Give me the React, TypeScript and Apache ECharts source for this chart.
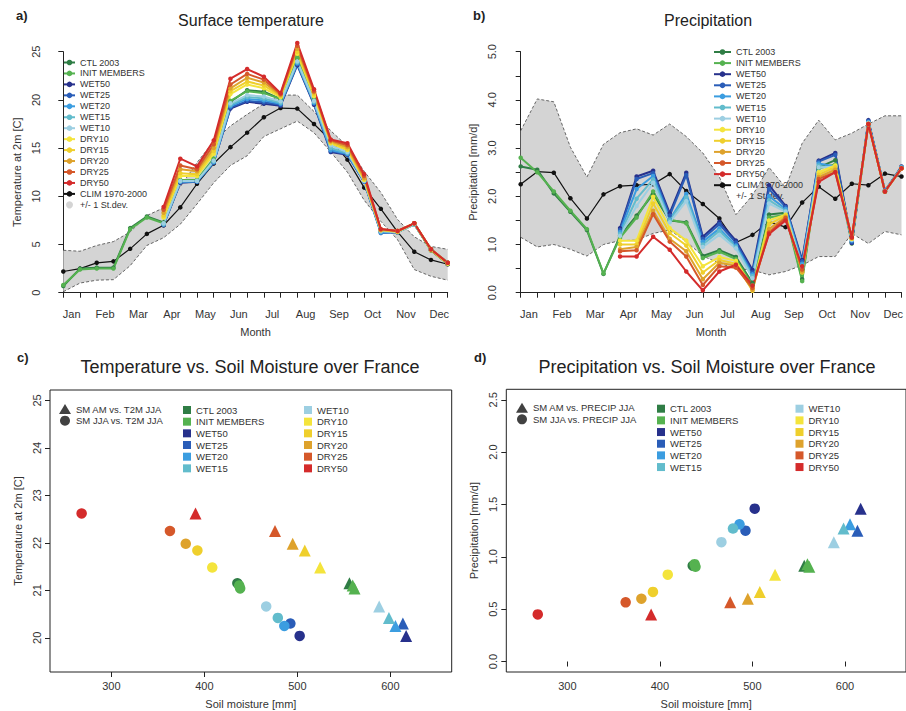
import React, { useEffect, useRef } from 'react';
import * as echarts from 'echarts';

const N = null;
const MONTHS = ['Jan', 'Feb', 'Mar', 'Apr', 'May', 'Jun', 'Jul', 'Aug', 'Sep', 'Oct', 'Nov', 'Dec'];
const EXPERIMENTS = ['CTL 2003', 'INIT MEMBERS', 'WET50', 'WET25', 'WET20', 'WET15', 'WET10', 'DRY10', 'DRY15', 'DRY20', 'DRY25', 'DRY50'];
const COLORS = ['#2f7d45', '#55b250', '#27318c', '#2a5db8', '#3b9de0', '#62bccc', '#9dcfe2', '#f4e43c', '#efcf2c', '#dea22c', '#d5582a', '#d42b2b'];

// Panel a: surface temperature, half-month steps (24 points)
const T_CLIM = [2.2, 2.5, 3.1, 3.25, 4.55, 6.1, 7.0, 8.85, 11.3, 13.4, 15.1, 16.6, 18.2, 19.15, 19.1, 17.5, 15.8, 13.8, 10.9, 8.7, 6.3, 4.25, 3.4, 2.95];
const T_SD_LOW = [0.1, 1.0, 1.3, 1.35, 2.8, 4.9, 5.7, 7.1, 9.2, 11.4, 13.2, 14.2, 16.2, 17.0, 17.8, 16.6, 14.6, 12.5, 9.6, 7.4, 5.5, 2.4, 1.7, 1.3];
const T_SD_HIGH = [4.4, 4.3, 4.9, 5.3, 6.3, 8.0, 8.8, 11.0, 13.5, 15.7, 17.3, 18.5, 19.6, 20.5, 20.5, 18.8, 16.8, 15.2, 12.6, 10.4, 7.6, 5.8, 4.8, 4.5];
const T_CTL = [0.7, 2.5, 2.6, 2.6, 6.7, 7.9, 7.3, 11.6, 11.6, 13.8, 19.8, 21.0, 20.85, 20.1, 24.3, 20.0, 15.8, 14.7, 11.6, 6.4, 6.3, 7.1, 4.4, 3.0];
const T_INIT = [0.8, 2.4, 2.5, 2.5, 6.6, 7.8, 7.2, 11.7, 11.7, 13.9, 19.9, 20.9, 20.7, 20.1, 24.4, 20.1, 15.7, 14.8, 11.6, 6.4, 6.3, 7.1, 4.4, 3.0];
const T_WET50 = [N, N, N, N, N, N, 7.0, 11.4, 11.5, 13.5, 19.1, 19.8, 19.6, 19.4, 23.6, 19.5, 14.6, 14.3, 11.5, 6.3, 6.3, 7.2, 4.4, 3.0];
const T_WET25 = [N, N, N, N, N, N, 7.05, 11.45, 11.5, 13.5, 19.2, 19.9, 19.75, 19.5, 23.7, 19.6, 14.7, 14.35, 11.5, 6.2, 6.25, 7.2, 4.45, 3.1];
const T_WET20 = [N, N, N, N, N, N, 7.1, 11.5, 11.55, 13.55, 19.35, 20.1, 19.95, 19.6, 23.8, 19.7, 14.8, 14.4, 11.55, 6.25, 6.3, 7.1, 4.5, 3.15];
const T_WET15 = [N, N, N, N, N, N, 7.1, 11.55, 11.6, 13.6, 19.5, 20.3, 20.15, 19.7, 23.9, 19.8, 15.0, 14.5, 11.6, 6.35, 6.3, 7.1, 4.5, 3.1];
const T_WET10 = [N, N, N, N, N, N, 7.2, 11.6, 11.6, 13.7, 19.65, 20.5, 20.35, 19.85, 24.0, 19.9, 15.3, 14.6, 11.6, 6.4, 6.3, 7.1, 4.5, 3.1];
const T_DRY10 = [N, N, N, N, N, N, 7.8, 12.1, 12.1, 14.4, 20.6, 21.6, 21.2, 20.3, 24.8, 20.4, 15.5, 14.8, 11.7, 6.5, 6.3, 7.2, 4.4, 3.0];
const T_DRY15 = [N, N, N, N, N, N, 8.0, 12.4, 12.3, 14.7, 20.9, 21.9, 21.5, 20.4, 25.0, 20.6, 15.6, 14.9, 11.8, 6.5, 6.4, 7.2, 4.5, 3.1];
const T_DRY20 = [N, N, N, N, N, N, 8.3, 12.8, 12.6, 15.0, 21.2, 22.3, 21.8, 20.5, 25.3, 20.8, 15.7, 15.1, 11.9, 6.5, 6.4, 7.2, 4.5, 3.1];
const T_DRY25 = [N, N, N, N, N, N, 8.6, 13.2, 12.8, 15.4, 21.6, 22.7, 22.1, 20.6, 25.6, 20.9, 15.8, 15.3, 12.1, 6.6, 6.4, 7.2, 4.5, 3.1];
const T_DRY50 = [N, N, N, N, N, N, 8.9, 13.9, 13.1, 15.8, 22.2, 23.2, 22.4, 20.7, 25.9, 21.1, 15.9, 15.5, 12.3, 6.6, 6.4, 7.2, 4.5, 3.1];

// Panel b: precipitation
const P_CLIM = [2.25, 2.51, 2.49, 1.96, 1.54, 2.04, 2.21, 2.23, 2.25, 2.46, 2.11, 1.84, 1.54, 1.04, 1.2, 1.47, 1.36, 1.87, 2.2, 1.95, 2.26, 2.23, 2.47, 2.41];
const P_SD_LOW = [1.15, 0.95, 1.0, 0.9, 0.76, 1.0, 1.08, 1.09, 1.23, 1.3, 1.06, 0.76, 0.61, 0.5, 0.47, 0.37, 0.44, 0.57, 0.75, 0.75, 1.23, 1.02, 1.27, 1.2];
const P_SD_HIGH = [3.36, 4.02, 3.96, 3.02, 2.4, 3.08, 3.32, 3.4, 3.27, 3.5, 3.24, 2.9, 2.4, 1.62, 2.02, 2.6, 2.18, 3.1, 3.58, 3.17, 3.31, 3.5, 3.67, 3.67];
const P_CTL = [2.62, 2.55, 2.06, 1.68, 1.3, 0.39, 1.18, 1.6, 2.05, 1.5, 1.46, 0.76, 0.88, 0.74, 0.2, 1.62, 1.66, 0.28, 2.6, 2.75, 1.05, 3.55, 2.1, 2.6];
const P_INIT = [2.8, 2.5, 2.1, 1.7, 1.32, 0.4, 1.14, 1.56, 2.1, 1.52, 1.44, 0.72, 0.85, 0.7, 0.16, 1.56, 1.62, 0.24, 2.58, 2.66, 1.02, 3.52, 2.1, 2.58];
const P_WET50 = [N, N, N, N, N, N, 1.34, 2.41, 2.53, 1.65, 2.49, 1.16, 1.47, 1.08, 0.47, 2.23, 1.8, 0.68, 2.74, 2.9, 1.03, 3.58, 2.1, 2.62];
const P_WET25 = [N, N, N, N, N, N, 1.3, 2.36, 2.48, 1.6, 2.44, 1.12, 1.42, 1.04, 0.42, 2.15, 1.78, 0.65, 2.72, 2.86, 1.05, 3.56, 2.12, 2.6];
const P_WET20 = [N, N, N, N, N, N, 1.26, 2.15, 2.42, 1.52, 2.05, 1.06, 1.33, 0.98, 0.38, 2.0, 1.74, 0.6, 2.68, 2.62, 1.08, 3.54, 2.12, 2.6];
const P_WET15 = [N, N, N, N, N, N, 1.22, 1.95, 2.35, 1.5, 1.98, 1.0, 1.28, 0.95, 0.34, 1.92, 1.7, 0.56, 2.64, 2.55, 1.1, 3.52, 2.1, 2.6];
const P_WET10 = [N, N, N, N, N, N, 1.18, 1.8, 2.28, 1.46, 1.9, 0.95, 1.2, 0.92, 0.3, 1.85, 1.68, 0.52, 2.6, 2.62, 1.1, 3.52, 2.1, 2.58];
const P_DRY10 = [N, N, N, N, N, N, 1.08, 1.08, 1.99, 1.34, 1.08, 0.55, 0.74, 0.66, 0.1, 1.5, 1.62, 0.45, 2.5, 2.64, 1.12, 3.5, 2.1, 2.58];
const P_DRY15 = [N, N, N, N, N, N, 1.0, 1.0, 1.85, 1.24, 0.98, 0.42, 0.68, 0.6, 0.04, 1.42, 1.6, 0.42, 2.45, 2.6, 1.12, 3.5, 2.1, 2.58];
const P_DRY20 = [N, N, N, N, N, N, 0.9, 0.95, 1.7, 1.12, 0.86, 0.28, 0.62, 0.56, 0.06, 1.32, 1.57, 0.44, 2.4, 2.55, 1.14, 3.5, 2.1, 2.58];
const P_DRY25 = [N, N, N, N, N, N, 0.86, 0.88, 1.63, 1.06, 0.75, 0.16, 0.55, 0.52, 0.1, 1.25, 1.55, 0.48, 2.36, 2.5, 1.14, 3.5, 2.1, 2.58];
const P_DRY50 = [N, N, N, N, N, N, 0.75, 0.75, 1.16, 0.89, 0.44, 0.05, 0.44, 0.58, 0.15, 1.22, 1.5, 0.55, 2.3, 2.5, 1.15, 3.5, 2.1, 2.58];

// Panels c/d: per experiment (INIT MEMBERS has two members)
const SM_AM = [[556], [559.5, 561.5], [617], [613.5], [605.5], [598.5], [588], [524.5], [508], [495], [476], [390.5]];
const SM_JJA = [[435.5], [437.5, 438.5], [502.5], [492.5], [486], [479], [466.5], [408.5], [392.5], [380], [363], [268]];
const T2M_JJA = [[21.15], [21.1, 21.04], [20.04], [20.3], [20.25], [20.42], [20.66], [21.48], [21.84], [21.98], [22.25], [22.62]];
const PRECIP_JJA = [[0.915], [0.93, 0.905], [1.46], [1.25], [1.31], [1.27], [1.14], [0.83], [0.665], [0.6], [0.565], [0.45]];

const T_TICKS = [0, 5, 10, 15, 20, 25];
const P_LABEL_TICKS = [0, 1, 2, 3, 4, 5];
const P_MINOR_TICKS = [0, 0.5, 1, 1.5, 2, 2.5, 3, 3.5, 4, 4.5, 5];
const SM_TICKS = [300, 400, 500, 600];
const TC_TICKS = [20, 21, 22, 23, 24, 25];
const PD_TICKS = [0, 0.5, 1, 1.5, 2, 2.5];

const T_SERIES = [T_CTL, T_INIT, T_WET50, T_WET25, T_WET20, T_WET15, T_WET10, T_DRY10, T_DRY15, T_DRY20, T_DRY25, T_DRY50];
const P_SERIES = [P_CTL, P_INIT, P_WET50, P_WET25, P_WET20, P_WET15, P_WET10, P_DRY10, P_DRY15, P_DRY20, P_DRY25, P_DRY50];

const FONT = 'Liberation Sans, Arial, Helvetica, sans-serif';
const INK = '#222';
const TXT = '#333';
const BAND = '#d4d4d4';

const toXY = (arr: (number | null)[]) =>
  arr.map((v, i) => (v == null ? null : [i, v])).filter((d) => d !== null) as number[][];

const HALF_MONTH_TICKS = MONTHS.flatMap((_, m) => [2 * m, 2 * m + 1]);
const MONTH_LABEL_POS = MONTHS.map((_, m) => 2 * m + 0.5);

function monthAxis(gridIndex: number) {
  return {
    gridIndex,
    type: 'value',
    min: 0,
    max: 23,
    offset: 10,
    name: 'Month',
    nameLocation: 'middle',
    nameGap: 24,
    nameTextStyle: { fontSize: 11, color: TXT, fontFamily: FONT },
    axisLine: { show: true, lineStyle: { color: INK, width: 1 } },
    axisTick: { show: true, customValues: HALF_MONTH_TICKS, length: 5, lineStyle: { color: INK } },
    axisLabel: {
      customValues: MONTH_LABEL_POS,
      formatter: (v: number) => MONTHS[Math.round((v - 0.5) / 2)] || '',
      fontSize: 11,
      color: TXT,
      margin: 6,
      fontFamily: FONT,
    },
    splitLine: { show: false },
  };
}

function leftAxis(gridIndex: number, min: number, max: number, name: string, tickVals: number[], labelVals: number[], fmt: (v: number) => string, offset: number, boxed: boolean) {
  return {
    gridIndex,
    type: 'value',
    min,
    max,
    offset,
    name,
    nameLocation: 'middle',
    nameGap: 27,
    nameRotate: 90,
    nameTextStyle: { fontSize: 11, color: TXT, fontFamily: FONT },
    axisLine: { show: !boxed, lineStyle: { color: INK, width: 1 } },
    axisTick: { show: true, customValues: tickVals, length: 5, lineStyle: { color: INK } },
    axisLabel: { customValues: labelVals, formatter: fmt, rotate: 90, fontSize: 11, color: TXT, margin: 8, fontFamily: FONT },
    splitLine: { show: false },
  };
}

function smAxis(gridIndex: number) {
  return {
    gridIndex,
    type: 'value',
    min: 234,
    max: 666,
    name: 'Soil moisture [mm]',
    nameLocation: 'middle',
    nameGap: 26,
    nameTextStyle: { fontSize: 11, color: TXT, fontFamily: FONT },
    axisLine: { show: false },
    axisTick: { show: true, customValues: SM_TICKS, length: 5, lineStyle: { color: INK } },
    axisLabel: { customValues: SM_TICKS, fontSize: 11, color: TXT, margin: 8, fontFamily: FONT },
    splitLine: { show: false },
  };
}

function bandSeries(axis: number, low: number[], high: number[]) {
  return {
    name: '+/- 1 St.dev.',
    type: 'custom',
    xAxisIndex: axis,
    yAxisIndex: axis,
    data: low.map((v, i) => [i, v, high[i]]),
    encode: { x: 0, y: [1, 2] },
    silent: true,
    clip: false,
    z: 1,
    itemStyle: { color: BAND },
    renderItem: (params: any, api: any) => {
      if (params.dataIndex !== 0) return null;
      const top = high.map((v, i) => api.coord([i, v]));
      const bot = low.map((v, i) => api.coord([i, v]));
      const edge = { stroke: '#444', lineWidth: 0.8, lineDash: [3, 2], fill: null };
      return {
        type: 'group',
        children: [
          { type: 'polygon', shape: { points: top.concat(bot.slice().reverse()) }, style: { fill: BAND, stroke: null } },
          { type: 'polyline', shape: { points: top }, style: edge },
          { type: 'polyline', shape: { points: bot }, style: edge },
        ],
      };
    },
  };
}

function monthlyLines(axis: number, clim: number[], sets: (number | null)[][]) {
  const out: any[] = [
    {
      name: 'CLIM 1970-2000',
      type: 'line',
      xAxisIndex: axis,
      yAxisIndex: axis,
      data: toXY(clim),
      symbol: 'circle',
      symbolSize: 4.5,
      lineStyle: { color: '#111', width: 1.2 },
      itemStyle: { color: '#111' },
      z: 3,
    },
  ];
  sets.forEach((arr, k) => {
    out.push({
      name: EXPERIMENTS[k],
      type: 'line',
      xAxisIndex: axis,
      yAxisIndex: axis,
      data: toXY(arr),
      symbol: 'circle',
      symbolSize: 4.5,
      clip: false,
      lineStyle: { color: COLORS[k], width: 2 },
      itemStyle: { color: COLORS[k] },
      z: 4,
    });
  });
  return out;
}

function scatterSeries(axis: number, yVals: number[][]) {
  return EXPERIMENTS.map((name, k) => {
    const pts: any[] = [];
    SM_AM[k].forEach((x, j) => {
      pts.push({ value: [x, yVals[k][j]], symbol: 'triangle', symbolSize: 12 });
      pts.push({ value: [SM_JJA[k][j], yVals[k][j]], symbol: 'circle', symbolSize: 10.5 });
    });
    return {
      name,
      type: 'scatter',
      xAxisIndex: axis,
      yAxisIndex: axis,
      data: pts,
      itemStyle: { color: COLORS[k], opacity: 1 },
      z: 4,
    };
  });
}

function dummy(axis: number, name: string, symbol: string) {
  return { name, type: 'scatter', xAxisIndex: axis, yAxisIndex: axis, data: [], symbol, itemStyle: { color: '#111' } };
}

const legendText = (size: number) => ({ fontSize: size, color: TXT, fontFamily: FONT, lineHeight: 10 });

function lineLegend(left: number, top: number, itemWidth: number, gap: number) {
  return {
    orient: 'vertical',
    left,
    top,
    itemWidth,
    itemHeight: 7,
    itemGap: gap,
    padding: 0,
    selectedMode: false,
    textStyle: legendText(9),
    data: [
      ...EXPERIMENTS,
      'CLIM 1970-2000',
      { name: '+/- 1 St.dev.', icon: 'circle', itemStyle: { color: BAND } },
    ],
  };
}

function squareLegend(left: number, top: number, names: string[]) {
  return {
    orient: 'vertical',
    left,
    top,
    itemWidth: 8,
    itemHeight: 8,
    itemGap: 1.67,
    padding: 0,
    selectedMode: false,
    textStyle: legendText(9.5),
    data: names.map((n) => ({ name: n, icon: 'rect' })),
  };
}

function shapeLegend(left: number, top: number, names: string[]) {
  return {
    orient: 'vertical',
    left,
    top,
    itemWidth: 12,
    itemHeight: 10,
    itemGap: 1.67,
    padding: 0,
    selectedMode: false,
    textStyle: legendText(9.5),
    data: [
      { name: names[0], icon: 'triangle' },
      { name: names[1], icon: 'circle' },
    ],
  };
}

function txt(x: number, y: number, text: string, size: number, bold = false, align = 'center') {
  return {
    type: 'text',
    x,
    y,
    silent: true,
    style: { text, fontSize: size, fontWeight: bold ? 'bold' : 'normal', fontFamily: FONT, fill: INK, align, verticalAlign: 'middle' },
  };
}

export default function App() {
  const ref = useRef<HTMLDivElement>(null);
  useEffect(() => {
    if (!ref.current) return;
    const chart = echarts.init(ref.current, undefined, { renderer: 'svg' });
    const fmt1 = (v: number) => v.toFixed(1);
    const fmt0 = (v: number) => String(v);
    const option: any = {
      animation: false,
      backgroundColor: '#ffffff',
      textStyle: { fontFamily: FONT },
      grid: [
        { left: 63.3, top: 51.7, width: 384.4, height: 241 },
        { left: 520.7, top: 51.7, width: 383.6, height: 241 },
        { left: 50, top: 390, width: 401.7, height: 282, show: true, borderColor: INK, borderWidth: 1, backgroundColor: 'transparent' },
        { left: 506.3, top: 389.3, width: 401.7, height: 282.7, show: true, borderColor: INK, borderWidth: 1, backgroundColor: 'transparent' },
      ],
      xAxis: [monthAxis(0), monthAxis(1), smAxis(2), smAxis(3)],
      yAxis: [
        leftAxis(0, 0, 25, 'Temperature at 2m [C]', T_TICKS, T_TICKS, fmt0, 14.3, false),
        leftAxis(1, 0, 5, 'Precipitation [mm/d]', P_MINOR_TICKS, P_LABEL_TICKS, fmt1, 15.4, false),
        leftAxis(2, 19.28, 25.22, 'Temperature at 2m [C]', TC_TICKS, TC_TICKS, fmt0, 0, true),
        leftAxis(3, -0.1, 2.6, 'Precipitation [mm/d]', PD_TICKS, PD_TICKS, fmt1, 0, true),
      ],
      legend: [
        lineLegend(63, 57.5, 11, 0.95),
        lineLegend(713, 47, 17, 1.1),
        shapeLegend(59, 404, ['SM AM vs. T2M JJA', 'SM JJA vs. T2M JJA']),
        squareLegend(183, 405, EXPERIMENTS.slice(0, 6)),
        squareLegend(304, 405, EXPERIMENTS.slice(6)),
        shapeLegend(516, 402.7, ['SM AM vs. PRECIP JJA', 'SM JJA vs. PRECIP JJA']),
        squareLegend(657, 403.7, EXPERIMENTS.slice(0, 6)),
        squareLegend(795.5, 403.7, EXPERIMENTS.slice(6)),
      ],
      series: [
        bandSeries(0, T_SD_LOW, T_SD_HIGH),
        ...monthlyLines(0, T_CLIM, T_SERIES),
        bandSeries(1, P_SD_LOW, P_SD_HIGH),
        ...monthlyLines(1, P_CLIM, P_SERIES),
        dummy(2, 'SM AM vs. T2M JJA', 'triangle'),
        dummy(2, 'SM JJA vs. T2M JJA', 'circle'),
        ...scatterSeries(2, T2M_JJA),
        dummy(3, 'SM AM vs. PRECIP JJA', 'triangle'),
        dummy(3, 'SM JJA vs. PRECIP JJA', 'circle'),
        ...scatterSeries(3, PRECIP_JJA),
      ],
      graphic: [
        txt(16, 15, 'a)', 13, true, 'left'),
        txt(251, 20.5, 'Surface temperature', 16),
        txt(473, 15, 'b)', 13, true, 'left'),
        txt(708, 20.5, 'Precipitation', 16),
        txt(17, 357, 'c)', 13, true, 'left'),
        txt(250, 366.5, 'Temperature vs. Soil Moisture over France', 18),
        txt(474, 357, 'd)', 13, true, 'left'),
        txt(707, 366.5, 'Precipitation vs. Soil Moisture over France', 18),
      ],
    };
    chart.setOption(option);
    return () => chart.dispose();
  }, []);
  return <div ref={ref} style={{ position: 'absolute', left: 0, top: 0, width: 906, height: 711 }} />;
}
